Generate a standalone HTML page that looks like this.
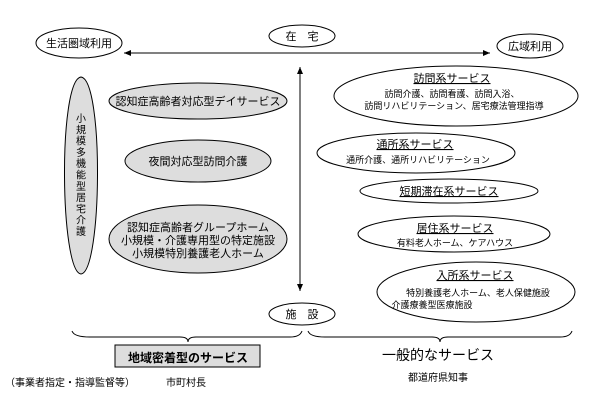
<!DOCTYPE html>
<html><head><meta charset="utf-8"><style>
body{margin:0;background:#fff}
svg text{font-family:"Liberation Sans","Noto Sans CJK JP",sans-serif;fill:#000}
</style></head><body>
<svg width="600" height="400" viewBox="0 0 600 400" xmlns="http://www.w3.org/2000/svg">
<defs><marker id="a" markerWidth="8" markerHeight="8" refX="7" refY="4" orient="auto" markerUnits="userSpaceOnUse"><path d="M0,1 L7,4 L0,7z" fill="#000"/></marker></defs>
<g stroke="#000" stroke-width="1">
<ellipse cx="79" cy="43" rx="43" ry="15" fill="#fff"/>
<ellipse cx="302" cy="36" rx="33" ry="11" fill="#fff"/>
<ellipse cx="530" cy="46" rx="33" ry="12" fill="#fff"/>
<ellipse cx="302" cy="314" rx="33" ry="11" fill="#fff"/>
<line x1="300" y1="53" x2="124" y2="53" marker-end="url(#a)"/>
<line x1="300" y1="53" x2="490" y2="53" marker-end="url(#a)"/>
<line x1="300" y1="180" x2="300" y2="67" marker-end="url(#a)"/>
<line x1="300" y1="180" x2="300" y2="291" marker-end="url(#a)"/>
<path d="M81,77 C104,80 102,272 81,274 C60,272 58,80 81,77Z" fill="#ddd"/>
<ellipse cx="198" cy="101" rx="89" ry="18" fill="#ddd"/>
<ellipse cx="198" cy="161" rx="73" ry="21" fill="#ddd"/>
<ellipse cx="198" cy="239" rx="89" ry="34" fill="#ddd"/>
<ellipse cx="456" cy="96" rx="122" ry="30" fill="#fff"/>
<ellipse cx="416" cy="153" rx="99" ry="20" fill="#fff"/>
<ellipse cx="449" cy="191" rx="89" ry="12" fill="#fff"/>
<ellipse cx="454" cy="234" rx="96" ry="18" fill="#fff"/>
<ellipse cx="476" cy="292" rx="99" ry="30" fill="#fff"/>
<path d="M72,331 Q74,337 90,337 L180,337 Q188,337 188,342 Q188,337 196,337 L290,337 Q300,337 302,331" fill="none"/>
<path d="M308,331 Q310,337 325,337 L432,337 Q440,337 440,342 Q440,337 448,337 L560,337 Q570,337 572,331" fill="none"/>
<rect x="115" y="345" width="145" height="22" fill="#ddd"/>
</g>
<g font-size="10" text-anchor="middle">
<text x="79" y="47" font-size="11">生活圏域利用</text>
<text x="302" y="40" font-size="11">在　宅</text>
<text x="530" y="50" font-size="11">広域利用</text>
<text x="302" y="318" font-size="11">施　設</text>
<text x="198" y="105" font-size="11">認知症高齢者対応型デイサービス</text>
<text x="198" y="165" font-size="11">夜間対応型訪問介護</text>
<text x="198" y="231" font-size="11">認知症高齢者グループホーム</text>
<text x="198" y="244" font-size="11">小規模・介護専用型の特定施設</text>
<text x="198" y="257" font-size="11">小規模特別養護老人ホーム</text>
<text x="452" y="82" font-size="11" text-decoration="underline">訪問系サービス</text>
<text x="452" y="97" font-size="9">訪問介護、訪問看護、訪問入浴、</text>
<text x="454" y="109" font-size="9">訪問リハビリテーション、居宅療法管理指導</text>
<text x="415" y="148" font-size="11" text-decoration="underline">通所系サービス</text>
<text x="418" y="163" font-size="9">通所介護、通所リハビリテーション</text>
<text x="449" y="195" font-size="11" text-decoration="underline">短期滞在系サービス</text>
<text x="455" y="232" font-size="11" text-decoration="underline">居住系サービス</text>
<text x="455" y="246" font-size="9">有料老人ホーム、ケアハウス</text>
<text x="475" y="279" font-size="11" text-decoration="underline">入所系サービス</text>
<text x="478" y="296" font-size="9">特別養護老人ホーム、老人保健施設</text>
<text x="432" y="308" font-size="9">介護療養型医療施設</text>
<text x="188" y="362" font-size="12" font-weight="bold">地域密着型のサービス</text>
<text x="438" y="360" font-size="14">一般的なサービス</text>
<text x="70" y="386">（事業者指定・指導監督等）</text>
<text x="186" y="386">市町村長</text>
<text x="438" y="381">都道府県知事</text>
</g>
<g font-size="10" text-anchor="middle">
<text x="81" y="122">小</text><text x="81" y="133.3">規</text><text x="81" y="144.6">模</text><text x="81" y="155.9">多</text><text x="81" y="167.2">機</text><text x="81" y="178.5">能</text><text x="81" y="189.8">型</text><text x="81" y="201.1">居</text><text x="81" y="212.4">宅</text><text x="81" y="223.7">介</text><text x="81" y="235">護</text>
</g>
</svg>
</body></html>
